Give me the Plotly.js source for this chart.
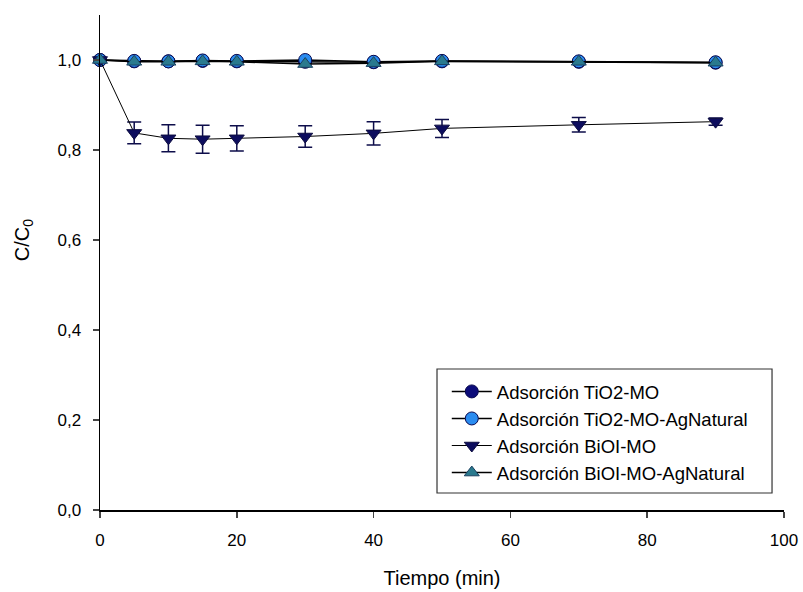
<!DOCTYPE html>
<html>
<head>
<meta charset="utf-8">
<script src="https://cdn.plot.ly/plotly-3.0.1.min.js"></script>
<style>html,body{margin:0;padding:0;background:#fff;}#chart{width:803px;height:592px;}</style>
</head>
<body>
<div id="chart"></div>
<script>
const tiempo = [0, 5, 10, 15, 20, 30, 40, 50, 70, 90];
const tio2MO = [1.0, 0.997, 0.997, 0.998, 0.997, 0.996, 0.995, 0.997, 0.996, 0.994];
const tio2MOAg = [1.0, 0.998, 0.997, 0.999, 0.998, 1.0, 0.996, 0.998, 0.997, 0.995];
const bioiMO = [1.0, 0.838, 0.826, 0.824, 0.826, 0.830, 0.837, 0.848, 0.856, 0.863];
const bioiMOErr = [0, 0.024, 0.030, 0.031, 0.028, 0.024, 0.026, 0.020, 0.016, 0.008];
const bioiMOAg = [1.0, 0.996, 0.996, 0.997, 0.996, 0.991, 0.993, 0.997, 0.996, 0.994];
const seriesNames = ["Adsorción TiO2-MO", "Adsorción TiO2-MO-AgNatural", "Adsorción BiOI-MO", "Adsorción BiOI-MO-AgNatural"];
const yTitle = "C/C<sub>0</sub>";
const xTitle = "Tiempo (min)";

const font = "Liberation Sans, Arial, sans-serif";
const traces = [
  {x: tiempo, y: tio2MO, name: seriesNames[0], mode: "lines+markers", cliponaxis: false,
   line: {color: "#000000", width: 1.5},
   marker: {symbol: "circle", size: 13, color: "#0b0b7a", line: {color: "#0a0a50", width: 1}}},
  {x: tiempo, y: tio2MOAg, name: seriesNames[1], mode: "lines+markers", cliponaxis: false,
   line: {color: "#000000", width: 1.5},
   marker: {symbol: "circle", size: 13, color: "#2a8cf0", line: {color: "#0a0a50", width: 1}}},
  {x: tiempo, y: bioiMO, name: seriesNames[2], mode: "lines+markers", cliponaxis: false,
   line: {color: "#000000", width: 1},
   error_y: {type: "data", array: bioiMOErr, visible: true, color: "#0d0d4a", thickness: 1.5, width: 7},
   marker: {symbol: "triangle-down", size: 13, color: "#0d0d5e", line: {color: "#0d0d40", width: 1}}},
  {x: tiempo, y: bioiMOAg, name: seriesNames[3], mode: "lines+markers", cliponaxis: false,
   line: {color: "#000000", width: 1.5},
   marker: {symbol: "triangle-up", size: 13, color: "#2a7a8e", line: {color: "#1a4060", width: 1}}}
];

const layout = {
  width: 803, height: 592,
  paper_bgcolor: "#ffffff", plot_bgcolor: "#ffffff",
  margin: {l: 100, r: 19, t: 15, b: 82},
  separators: ",.",
  showlegend: true,
  font: {family: font, color: "#000000", size: 14},
  xaxis: {
    range: [0, 100], tickvals: [0, 20, 40, 60, 80, 100], ticks: "outside", ticklen: 6, tickwidth: 1.5,
    ticklabelstandoff: 8,
    showline: true, linecolor: "#000", linewidth: 1.5, showgrid: false, zeroline: false,
    tickfont: {size: 17, family: font},
    title: {text: xTitle, font: {size: 20, family: font}, standoff: 22}
  },
  yaxis: {
    range: [0, 1.1], tickvals: [0, 0.2, 0.4, 0.6, 0.8, 1.0], tickformat: ".1f", ticks: "outside", ticklen: 6, tickwidth: 1.5,
    ticklabelstandoff: 8,
    showline: true, linecolor: "#000", linewidth: 1.5, showgrid: false, zeroline: false,
    tickfont: {size: 17, family: font}
  },
  annotations: [{text: yTitle, xref: "paper", yref: "paper", x: 0, y: 0.545, xanchor: "center", yanchor: "middle",
    xshift: -77, textangle: -90, showarrow: false, font: {size: 20, family: font, color: "#000"}}],
  legend: {
    x: 0.507, y: 0.277, xanchor: "left", yanchor: "top",
    bgcolor: "rgba(0,0,0,0)", borderwidth: 0,
    font: {size: 18.5, family: font}, tracegroupgap: 0, itemwidth: 40
  },
  shapes: [{type: "rect", xref: "paper", yref: "paper", x0: 0.4927, x1: 0.9825, y0: 0.0343, y1: 0.2848,
    line: {color: "#333", width: 1.2}, fillcolor: "#fff", layer: "below"}]
};
Plotly.newPlot("chart", traces, layout, {displayModeBar: false, staticPlot: true});
</script>
</body>
</html>
